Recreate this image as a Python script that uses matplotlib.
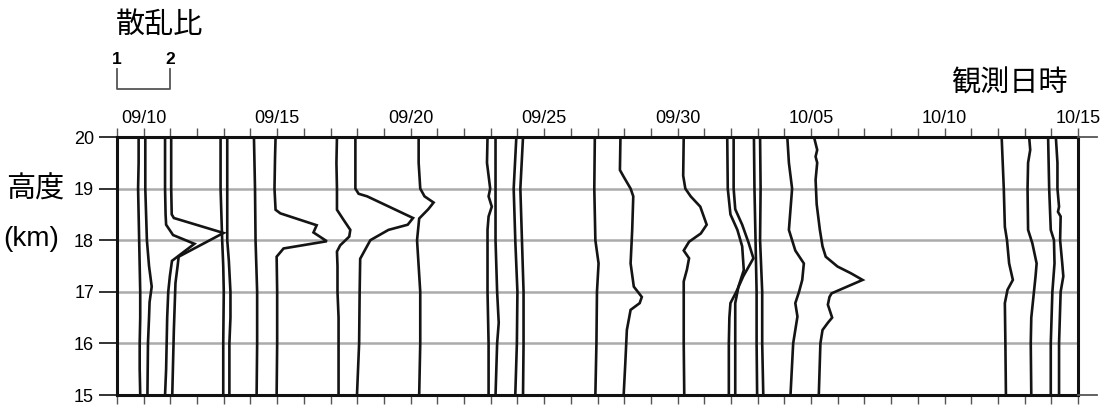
import matplotlib
matplotlib.use("Agg")
import matplotlib.pyplot as plt
import matplotlib.transforms as mtransforms
import numpy as np

plt.rcParams['font.family'] = ['Liberation Sans', 'Noto Sans CJK JP', 'DejaVu Sans']

# ---------------- data ----------------
# observation time of each profile, in days counted from Sep 0 (Oct 1 = 31)
obs_day = [9.75, 10.02, 10.76, 10.99, 12.84, 13.09, 14.09, 14.86, 17.20, 17.89,
           20.22, 22.82, 23.14, 23.82, 24.07, 26.86, 27.82, 30.17, 31.82, 31.88,
           32.82, 33.05, 34.07, 35.07, 42.10, 43.09, 43.84, 44.13]

# scattering-ratio profiles: altitude (km) and scattering ratio
alt_01 = [20, 19.5, 19, 18.5, 18, 17.5, 17, 16.5, 16, 15.5, 15]
sr_01 = [1.03, 1.03, 1.02, 1.03, 1.04, 1.05, 1.06, 1.06, 1.05, 1.05, 1.06]
alt_02 = [20, 19, 18, 17.5, 17.1, 16.8, 16.5, 16, 15]
sr_02 = [1.02, 1.02, 1.05, 1.09, 1.14, 1.10, 1.09, 1.07, 1.06]
alt_03 = [20, 19, 18.5, 18.3, 18.1, 17.93, 17.6, 17.3, 17, 16.5, 16, 15.5, 15]
sr_03 = [1.02, 1.02, 1.03, 1.04, 1.17, 1.57, 1.15, 1.11, 1.08, 1.06, 1.05, 1.04, 1.02]
alt_04 = [20, 19, 18.5, 18.43, 18.14, 17.68, 17.5, 17.17, 16.26, 15]
sr_04 = [1.02, 1.02, 1.03, 1.07, 2.00, 1.16, 1.14, 1.10, 1.07, 1.04]
alt_05 = [20, 19, 18, 17.5, 17, 16, 15]
sr_05 = [1.02, 1.02, 1.05, 1.07, 1.08, 1.07, 1.07]
alt_06 = [20, 19, 18, 17.6, 17, 16.5, 16, 15]
sr_06 = [1.02, 1.02, 1.02, 1.05, 1.08, 1.08, 1.06, 1.06]
alt_07 = [20, 19, 18, 17, 16, 15]
sr_07 = [1.02, 1.04, 1.05, 1.08, 1.08, 1.07]
alt_08 = [20, 19.6, 19, 18.59, 18.52, 18.29, 18.15, 17.98, 17.84, 17.68, 17, 16, 15]
sr_08 = [1.04, 1.03, 1.02, 1.04, 1.13, 1.81, 1.75, 2.00, 1.19, 1.06, 1.07, 1.07, 1.06]
alt_09 = [20, 19.5, 19, 18.59, 18.4, 18.2, 18.07, 17.9, 17.78, 17.5, 17, 16.5, 16, 15]
sr_09 = [1.02, 1.01, 1.02, 1.02, 1.14, 1.27, 1.25, 1.08, 1.02, 1.03, 1.03, 1.05, 1.05, 1.05]
alt_10 = [20, 19, 18.9, 18.85, 18.43, 18.3, 18.2, 18.0, 17.64, 17, 16, 15]
sr_10 = [1.02, 1.02, 1.08, 1.24, 2.10, 2.00, 1.64, 1.30, 1.11, 1.10, 1.09, 1.05]
alt_11 = [20, 19.5, 19, 18.85, 18.73, 18.6, 18.42, 18, 17, 16, 15]
sr_11 = [1.04, 1.04, 1.07, 1.15, 1.32, 1.22, 1.05, 1.01, 1.07, 1.07, 1.05]
alt_12 = [20, 19.5, 19, 18.85, 18.65, 18.46, 18.2, 17, 16, 15]
sr_12 = [1.03, 1.02, 1.08, 1.05, 1.11, 1.05, 1.03, 1.03, 1.05, 1.05]
alt_13 = [20, 19, 18, 17, 16.4, 16, 15]
sr_13 = [1.02, 1.02, 1.02, 1.05, 1.08, 1.05, 1.02]
alt_14 = [20, 19, 18, 17, 16, 15]
sr_14 = [1.07, 1.02, 1.05, 1.09, 1.08, 1.05]
alt_15 = [20, 19, 18, 17, 16, 15]
sr_15 = [1.07, 1.02, 1.05, 1.08, 1.08, 1.07]
alt_16 = [20, 19, 18, 17.55, 17, 16, 15]
sr_16 = [1.02, 1.01, 1.03, 1.09, 1.06, 1.05, 1.03]
alt_17 = [20, 19.36, 19.23, 19.0, 18.85, 18.2, 17.55, 17.1, 16.9, 16.78, 16.65, 16.26, 15.6, 15]
sr_17 = [1.02, 1.01, 1.08, 1.21, 1.26, 1.24, 1.21, 1.27, 1.42, 1.38, 1.21, 1.14, 1.11, 1.08]
alt_18 = [20, 19.25, 19.0, 18.85, 18.65, 18.3, 18.13, 17.97, 17.8, 17.65, 17.43, 17.2, 16, 15]
sr_18 = [1.03, 1.02, 1.06, 1.16, 1.34, 1.46, 1.35, 1.13, 1.03, 1.13, 1.09, 1.03, 1.03, 1.04]
alt_19 = [20, 19, 18.5, 18.2, 17.88, 17.42, 17.1, 16.78, 16, 15]
sr_19 = [1.02, 1.03, 1.08, 1.21, 1.30, 1.33, 1.23, 1.17, 1.17, 1.17]
alt_20 = [20, 19, 18.6, 18.3, 17.95, 17.65, 17.3, 17.0, 16.78, 16.5, 16, 15]
sr_20 = [1.11, 1.11, 1.14, 1.27, 1.39, 1.48, 1.29, 1.16, 1.05, 1.03, 1.02, 1.02]
alt_21 = [20, 19, 18, 17, 16, 15]
sr_21 = [1.02, 1.03, 1.05, 1.07, 1.07, 1.08]
alt_22 = [20, 19, 18, 17, 16, 15]
sr_22 = [1.02, 1.03, 1.02, 1.06, 1.06, 1.08]
alt_23 = [20, 19.5, 19, 18.6, 18.2, 17.8, 17.55, 17.23, 17.0, 16.78, 16.52, 16.26, 16, 15]
sr_23 = [1.02, 1.05, 1.11, 1.08, 1.05, 1.17, 1.33, 1.30, 1.24, 1.17, 1.21, 1.17, 1.13, 1.08]
alt_24 = [20, 19.75, 19.62, 19.5, 19.17, 18.7, 18.2, 17.88, 17.68, 17.49, 17.36, 17.23,
          16.97, 16.9, 16.75, 16.5, 16.4, 16.26, 16, 15]
sr_24 = [1.02, 1.08, 1.05, 1.08, 1.05, 1.07, 1.13, 1.18, 1.24, 1.46, 1.71, 1.93,
         1.35, 1.31, 1.28, 1.36, 1.28, 1.18, 1.14, 1.11]
alt_25 = [20, 19, 18.26, 18, 17.55, 17.23, 17.04, 16.78, 16, 15]
sr_25 = [1.02, 1.06, 1.08, 1.12, 1.16, 1.23, 1.13, 1.08, 1.09, 1.10]
alt_26 = [20, 19.75, 19.5, 19, 18.2, 17.94, 17.55, 17.3, 17, 16.5, 16, 15]
sr_26 = [1.04, 1.06, 1.02, 1.01, 1.02, 1.10, 1.18, 1.16, 1.13, 1.08, 1.07, 1.08]
alt_27 = [20, 19, 18.2, 18, 17.55, 17, 16, 15]
sr_27 = [1.02, 1.04, 1.07, 1.13, 1.14, 1.10, 1.07, 1.07]
alt_28 = [20, 19.5, 19, 18.65, 18.55, 18.46, 18, 17.55, 17.3, 17, 16, 15]
sr_28 = [1.02, 1.05, 1.05, 1.08, 1.06, 1.11, 1.10, 1.14, 1.16, 1.11, 1.08, 1.08]

profile_alts = [alt_01, alt_02, alt_03, alt_04, alt_05, alt_06, alt_07, alt_08, alt_09, alt_10,
                alt_11, alt_12, alt_13, alt_14, alt_15, alt_16, alt_17, alt_18, alt_19, alt_20,
                alt_21, alt_22, alt_23, alt_24, alt_25, alt_26, alt_27, alt_28]
profile_srs = [sr_01, sr_02, sr_03, sr_04, sr_05, sr_06, sr_07, sr_08, sr_09, sr_10,
               sr_11, sr_12, sr_13, sr_14, sr_15, sr_16, sr_17, sr_18, sr_19, sr_20,
               sr_21, sr_22, sr_23, sr_24, sr_25, sr_26, sr_27, sr_28]

date_ticks = [10, 15, 20, 25, 30, 35, 40, 45]
date_labels = ["09/10", "09/15", "09/20", "09/25", "09/30", "10/05", "10/10", "10/15"]
alt_ticks = [15, 16, 17, 18, 19, 20]

days_per_sr = 2.0   # one unit of scattering ratio spans two days on the time axis

# ---------------- figure ----------------
W, H = 1113, 408
fig = plt.figure(figsize=(W / 100, H / 100), dpi=100)
ax = fig.add_axes([117 / W, 13 / H, 961 / W, 258 / H])
ax.set_xlim(9, 45)
ax.set_ylim(15, 20)

# grid
for a in alt_ticks[1:-1]:
    ax.axhline(a, color='#ababab', lw=1.8, zorder=1)

# profiles
for t0, alts, srs in zip(obs_day, profile_alts, profile_srs):
    x = t0 + (np.asarray(srs) - 1.0) * days_per_sr
    ax.plot(x, alts, color='#141414', lw=1.9, zorder=3, solid_joinstyle='miter')

# spines
for s in ax.spines.values():
    s.set_linewidth(2.2)
    s.set_color('#111111')

# x ticks
ax.set_xticks(date_ticks)
ax.set_xticklabels(date_labels)
ax.set_xticks(np.arange(9, 46, 1), minor=True)
ax.tick_params(axis='x', which='both', top=True, bottom=True, labeltop=True,
               labelbottom=False, direction='out', length=6.5, width=1.0,
               color='#555555', pad=1.0, labelsize=13)

# y ticks
ax.set_yticks(alt_ticks)
ax.set_yticklabels([str(a) for a in alt_ticks])
ax.tick_params(axis='y', which='major', direction='out', length=13, width=1.3,
               color='#222222', pad=3.5, labelsize=13)

# extension of top/bottom frame lines beyond right edge
ax.plot([45, 45.72], [20, 20], color='#555555', lw=1.3, clip_on=False, zorder=4)
ax.plot([45, 45.72], [15, 15], color='#555555', lw=1.3, clip_on=False, zorder=4)

# scale bar for scattering ratio
trans = mtransforms.blended_transform_factory(ax.transData, ax.transAxes)
ax.plot([9, 9, 9 + days_per_sr, 9 + days_per_sr], [1.264, 1.186, 1.186, 1.264],
        color='#555555', lw=1.3, transform=trans, clip_on=False)
ax.text(9, 1.30, "1", transform=trans, ha='center', va='center', fontsize=12.5,
        fontweight='bold')
ax.text(9 + days_per_sr, 1.30, "2", transform=trans, ha='center', va='center',
        fontsize=12.5, fontweight='bold')

# titles / labels
fig.text(116 / W, 1 - 24.5 / H, "散乱比", ha='left', va='center', fontsize=21,
         family=['Noto Sans CJK JP', 'DejaVu Sans'])
fig.text(1068 / W, 1 - 83.5 / H, "観測日時", ha='right', va='center', fontsize=21,
         family=['Noto Sans CJK JP', 'DejaVu Sans'])
fig.text(6 / W, 1 - 189.5 / H, "高度", ha='left', va='center', fontsize=21,
         family=['Noto Sans CJK JP', 'DejaVu Sans'])
fig.text(3 / W, 1 - 239 / H, "(km)", ha='left', va='center', fontsize=20)

fig.savefig("out.png", dpi=100)
